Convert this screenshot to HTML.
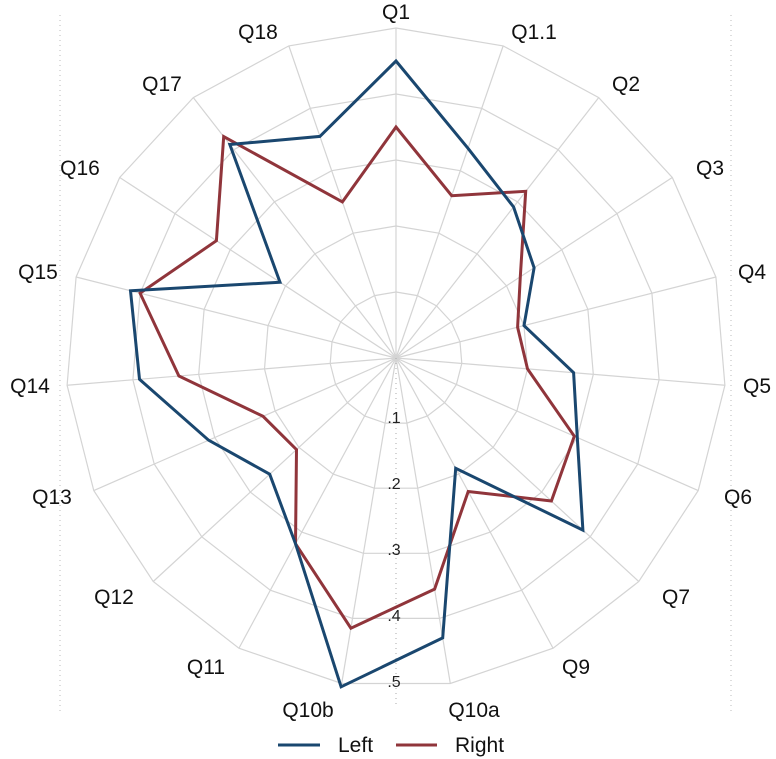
<!DOCTYPE html>
<html><head><meta charset="utf-8"><style>
html,body{margin:0;padding:0;background:#fff;}
svg{display:block;font-family:"Liberation Sans",sans-serif;}
</style></head><body>
<svg id="s" width="776" height="759" viewBox="0 0 776 759"></svg>
<script>
const cx=396,cy=358,R=660;
const labels=["Q1","Q1.1","Q2","Q3","Q4","Q5","Q6","Q7","Q9","Q10a","Q10b","Q11","Q12","Q13","Q14","Q15","Q16","Q17","Q18"];
const lp=[[396,12],[534,32],[626,84],[710,168],[752,272],[757,386],[738,497],[676,597],[576,667],[474,710],[308,710],[206,667],[114,597],[52,497],[30,386],[38,272],[80,168],[162,84],[258,32]];
const blue=[.45,.336,.29,.25,.2,.27,.3,.385,.19,.43,.505,.32,.26,.31,.39,.415,.21,.41,.355];
const red=[.35,.26,.32,.225,.19,.2,.295,.32,.23,.355,.415,.32,.205,.22,.33,.4,.325,.425,.25];
const n=19;
function pt(i,v){const a=i*2*Math.PI/n;return [cx+R*v*Math.sin(a),cy-R*v*Math.cos(a)];}
let h='';
h+='<line x1="60" y1="15" x2="60" y2="715" stroke="#bbb" stroke-dasharray="1,4"/>';
h+='<line x1="731" y1="15" x2="731" y2="715" stroke="#bbb" stroke-dasharray="1,4"/>';
for(let k=1;k<=5;k++){let p=[];for(let i=0;i<n;i++)p.push(pt(i,k/10).map(x=>x.toFixed(1)).join(','));
h+='<polygon points="'+p.join(' ')+'" fill="none" stroke="#d4d4d4" stroke-width="1.2"/>';}
for(let i=0;i<n;i++){const p=pt(i,.5);h+='<line x1="'+cx+'" y1="'+cy+'" x2="'+p[0]+'" y2="'+p[1]+'" stroke="#d4d4d4" stroke-width="1.2"/>';}
h+='<line x1="396" y1="358" x2="396" y2="705" stroke="#aaa" stroke-dasharray="1,4"/>';
for(let k=1;k<=5;k++){h+='<text x="394" y="'+(cy+66*k-1)+'" font-size="16" text-anchor="middle" fill="#222">.'+k+'</text>';}
function poly(d,c){let p=[];for(let i=0;i<n;i++)p.push(pt(i,d[i]).map(x=>x.toFixed(1)).join(','));
return '<polygon points="'+p.join(' ')+'" fill="none" stroke="'+c+'" stroke-width="3" stroke-linejoin="miter"/>';}
h+=poly(red,'#90353b');h+=poly(blue,'#1a476f');
for(let i=0;i<n;i++){h+='<text x="'+lp[i][0]+'" y="'+(lp[i][1]+7)+'" font-size="21" text-anchor="middle" fill="#111">'+labels[i]+'</text>';}
h+='<line x1="278" y1="745" x2="320" y2="745" stroke="#1a476f" stroke-width="3"/>';
h+='<text x="338" y="752" font-size="21" fill="#111">Left</text>';
h+='<line x1="396" y1="745" x2="437" y2="745" stroke="#90353b" stroke-width="3"/>';
h+='<text x="455" y="752" font-size="21" fill="#111">Right</text>';
document.getElementById('s').innerHTML=h;
</script>
</body></html>
